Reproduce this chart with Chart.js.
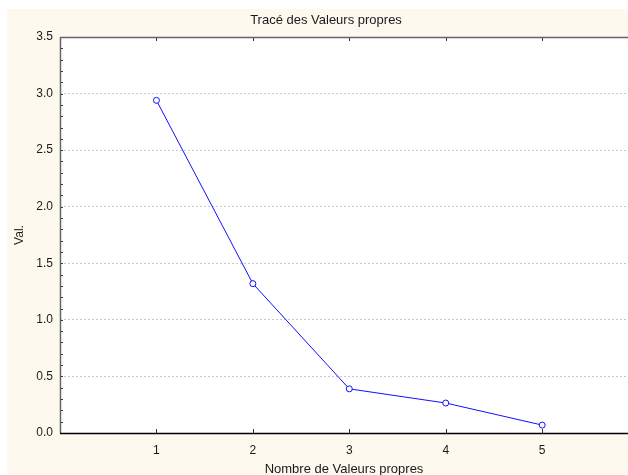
<!DOCTYPE html>
<html>
<head>
<meta charset="utf-8">
<script src="https://cdn.jsdelivr.net/npm/chart.js@4/dist/chart.umd.min.js"></script>
<style>
  html, body { margin: 0; padding: 0; background: #ffffff; }
  canvas { display: block; }
</style>
</head>
<body>
<canvas id="graphe_vp" width="628" height="475"></canvas>
<script>
// valeurs propres (éboulis)
const rangs = [1, 2, 3, 4, 5];
const valeurs = [2.94, 1.32, 0.39, 0.265, 0.07];
const ticks_x = [1, 2, 3, 4, 5];

const police = '"Liberation Sans", Arial, sans-serif';

// fond crème, cadre du graphique, petites graduations et titre
const decor = {
    id: 'decor',
    beforeDraw(chart) {
        const ctx = chart.ctx;
        const a = chart.chartArea;
        ctx.save();
        ctx.fillStyle = '#ffffff';
        ctx.fillRect(0, 0, chart.width, chart.height);
        ctx.fillStyle = '#fdf9ef';
        ctx.fillRect(7, 9, chart.width - 7, chart.height - 9);
        ctx.fillStyle = '#ffffff';
        ctx.fillRect(a.left, a.top, a.right - a.left, a.bottom - a.top);
        ctx.restore();
    },
    afterDraw(chart) {
        const ctx = chart.ctx;
        const a = chart.chartArea;
        const sx = chart.scales.x;
        const sy = chart.scales.y;
        ctx.save();
        ctx.strokeStyle = '#333333';
        ctx.lineWidth = 1;
        ctx.beginPath();
        for (let i = 1; i < 35; i++) {
            const y = Math.round(sy.getPixelForValue(i / 10)) + 0.5;
            ctx.moveTo(a.left, y);
            ctx.lineTo(a.left + 3, y);
        }
        ticks_x.forEach(v => {
            const x = Math.round(sx.getPixelForValue(v)) + 0.5;
            ctx.moveTo(x, a.bottom);
            ctx.lineTo(x, a.bottom - 4);
            ctx.moveTo(x, a.top);
            ctx.lineTo(x, a.top + 4);
        });
        ctx.stroke();

        ctx.strokeStyle = '#666666';
        ctx.lineWidth = 1.5;
        ctx.beginPath();
        ctx.moveTo(a.left + 0.5, a.bottom);
        ctx.lineTo(a.left + 0.5, a.top + 0.5);
        ctx.lineTo(chart.width, a.top + 0.5);
        ctx.stroke();
        ctx.strokeStyle = '#000000';
        ctx.beginPath();
        ctx.moveTo(a.left, a.bottom + 0.5);
        ctx.lineTo(chart.width, a.bottom + 0.5);
        ctx.stroke();

        ctx.fillStyle = '#1a1a1a';
        ctx.font = '13px ' + police;
        ctx.textAlign = 'center';
        ctx.textBaseline = 'middle';
        ctx.fillText('Tracé des Valeurs propres', 326, 20);
        ctx.restore();
    }
};

new Chart(document.getElementById('graphe_vp'), {
    type: 'line',
    data: {
        datasets: [{
            data: rangs.map((r, i) => ({ x: r, y: valeurs[i] })),
            borderColor: '#1010ff',
            borderWidth: 1,
            pointRadius: 3,
            pointHoverRadius: 3,
            pointBorderWidth: 1,
            pointBorderColor: '#1010ff',
            pointBackgroundColor: '#ffffff',
            tension: 0
        }]
    },
    options: {
        responsive: false,
        animation: false,
        devicePixelRatio: 1,
        layout: { autoPadding: false, padding: { top: 37, left: 0, right: 0, bottom: 0 } },
        plugins: {
            legend: { display: false },
            tooltip: { enabled: false },
            title: { display: false }
        },
        scales: {
            x: {
                type: 'linear',
                min: 0,
                max: 5.89,
                afterBuildTicks: s => { s.ticks = ticks_x.map(v => ({ value: v })); },
                afterFit: s => { s.height = 42; },
                grid: { display: false, drawTicks: false },
                border: { display: false },
                ticks: {
                    padding: 10,
                    color: '#1a1a1a',
                    font: { family: police, size: 12 },
                    maxRotation: 0
                },
                title: {
                    display: true,
                    text: 'Nombre de Valeurs propres',
                    color: '#1a1a1a',
                    font: { family: police, size: 13 },
                    padding: { top: 0, bottom: -2 }
                }
            },
            y: {
                min: 0,
                max: 3.5,
                afterFit: s => { s.width = 60; },
                grid: { color: '#c8c8c8', drawTicks: false },
                border: { display: false, dash: [2, 2] },
                ticks: {
                    stepSize: 0.5,
                    padding: 7,
                    color: '#1a1a1a',
                    font: { family: police, size: 12 },
                    callback: v => v.toFixed(1)
                },
                title: {
                    display: true,
                    text: 'Val.',
                    color: '#1a1a1a',
                    font: { family: police, size: 12 },
                    padding: { top: 12, bottom: 0 }
                }
            }
        }
    },
    plugins: [decor]
});
</script>
</body>
</html>
